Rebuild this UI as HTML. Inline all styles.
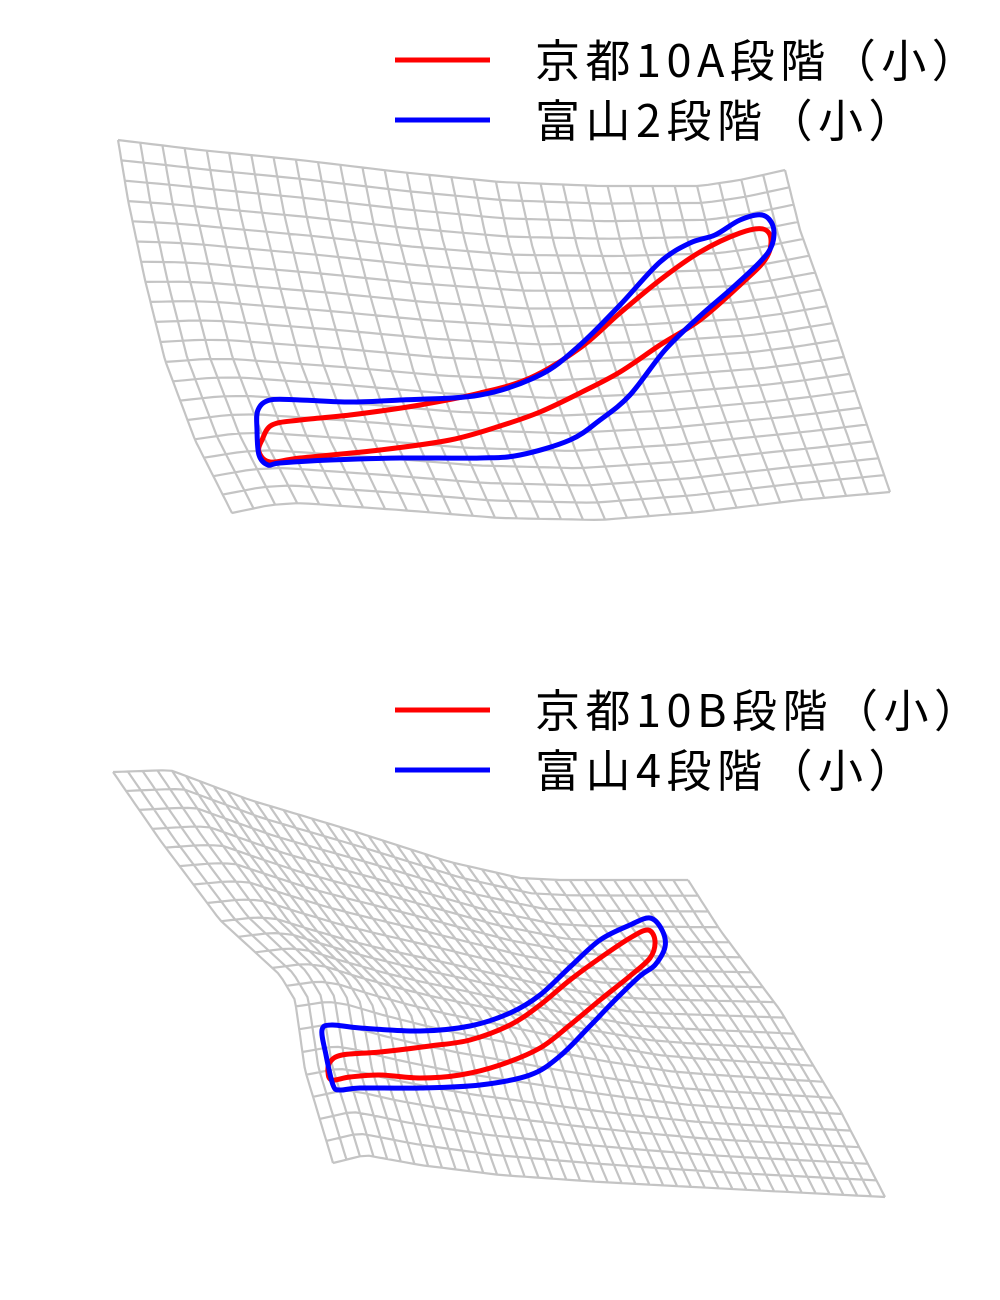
<!DOCTYPE html>
<html><head><meta charset="utf-8"><style>
body{margin:0;background:#fff}
svg{display:block}
text{font-family:"Noto Sans CJK JP","Liberation Sans",sans-serif;font-size:45px;fill:#000;letter-spacing:5.5px}
</style></head><body>
<svg id="chart" width="1000" height="1300" viewBox="0 0 1000 1300">
<g id="p1"></g>
<g id="p2"></g>
<g>
<line x1="395" y1="60" x2="490" y2="60" stroke="#ff0000" stroke-width="5"/>
<text x="535" y="77">京都10A段階（小）</text>
<line x1="395" y1="120" x2="490" y2="120" stroke="#0000ff" stroke-width="5"/>
<text x="535" y="137">富山2段階（小）</text>
</g>
<g>
<line x1="395" y1="710" x2="490" y2="710" stroke="#ff0000" stroke-width="5"/>
<text x="535" y="727">京都10B段階（小）</text>
<line x1="395" y1="770" x2="490" y2="770" stroke="#0000ff" stroke-width="5"/>
<text x="535" y="787">富山4段階（小）</text>
</g>
</svg>
<script>
// Grid 1 edges
const g1Top=[[118,140],[200,150],[300,160],[400,172],[500,182],[600,186],[700,186],[740,180],[785,170]];
const g1Bottom=[[232,513],[270,505],[300,503],[400,510],[500,518],[600,520],[700,512],[800,500],[890,492]];
const g1Left=[[118,140],[128,200],[145,280],[165,360],[195,440],[232,513]];
const g1Right=[[785,170],[800,230],[825,300],[855,390],[890,492]];
// Grid 2 edges
const g2Top=[[113,772],[170,770],[250,800],[350,830],[450,862],[520,878],[560,880],[688,880]];
const g2Bottom=[[333,1163],[365,1155],[420,1165],[500,1175],[600,1182],[750,1190],[885,1197]];
const g2Left=[[113,772],[160,840],[220,920],[280,975],[295,1000],[305,1070],[333,1163]];
const g2Right=[[688,880],[720,930],[780,1010],[840,1110],[885,1197]];
// Outlines
const red1=[[262,440],[272,425],[300,420],[350,415],[420,405],[480,393],[530,378],[580,348],[620,313],[660,280],[700,252],[740,233],[763,229],[771,240],[765,260],[740,285],[700,320],[660,345],[620,372],[580,393],[540,412],[500,426],[450,440],[380,450],[300,458],[270,462],[259,452]];
const blue1=[[258,410],[270,400],[300,400],[350,402],[400,400],[480,395],[540,375],[580,345],[620,305],[660,262],[690,243],[715,235],[740,220],[762,215],[773,226],[772,245],[760,262],[730,290],[700,316],[665,350],[630,395],[600,420],[570,440],[520,455],[480,458],[400,458],[330,460],[280,463],[268,465],[259,455],[257,430]];
const red2=[[330,1062],[342,1055],[380,1052],[430,1046],[470,1040],[510,1025],[540,1005],[570,980],[600,958],[630,938],[648,930],[655,941],[650,958],[630,976],[600,1000],[570,1025],[540,1048],[500,1065],[460,1075],[420,1078],[380,1075],[350,1077],[332,1080],[328,1072]];
const blue2=[[322,1030],[332,1025],[360,1028],[420,1031],[470,1026],[510,1013],[540,995],[570,967],[600,940],[630,925],[650,918],[662,930],[665,947],[655,965],[640,976],[615,1000],[590,1026],[560,1056],[530,1075],[480,1085],[420,1088],[360,1088],[340,1090],[333,1085],[326,1055]];

function interp(arr,t){
  const L=[0];
  for(let i=1;i<arr.length;i++)L.push(L[i-1]+Math.hypot(arr[i][0]-arr[i-1][0],arr[i][1]-arr[i-1][1]));
  const s=t*L[L.length-1];
  let i=0;while(i<arr.length-2&&L[i+1]<s)i++;
  const u=(s-L[i])/((L[i+1]-L[i])||1);
  return [arr[i][0]+(arr[i+1][0]-arr[i][0])*u, arr[i][1]+(arr[i+1][1]-arr[i][1])*u];
}
function coons(T,B,L,R,u,v){
  const t=interp(T,u),b=interp(B,u),l=interp(L,v),r=interp(R,v);
  const p00=T[0],p10=T[T.length-1],p01=B[0],p11=B[B.length-1];
  const out=[];
  for(let k=0;k<2;k++){
    out[k]=(1-v)*t[k]+v*b[k]+(1-u)*l[k]+u*r[k]
      -((1-u)*(1-v)*p00[k]+u*(1-v)*p10[k]+(1-u)*v*p01[k]+u*v*p11[k]);
  }
  return out;
}
const NS="http://www.w3.org/2000/svg";
function grid(g,T,B,L,R,nc,nr,name){
  const gg=document.createElementNS(NS,'g');
  
  
  let d='';
  const S=60;
  for(let i=0;i<=nc;i++){const u=i/nc;let s='';for(let j=0;j<=S;j++){const p=coons(T,B,L,R,u,j/S);s+=(j?'L':'M')+p[0].toFixed(1)+' '+p[1].toFixed(1);}d+=s;}
  for(let i=0;i<=nr;i++){const v=i/nr;let s='';for(let j=0;j<=S;j++){const p=coons(T,B,L,R,j/S,v);s+=(j?'L':'M')+p[0].toFixed(1)+' '+p[1].toFixed(1);}d+=s;}
  const p=document.createElementNS(NS,'path');
  
  
  p.setAttribute('d',d);p.setAttribute('fill','none');p.setAttribute('stroke','#c4c4c4');p.setAttribute('stroke-width','2.2');
  gg.appendChild(p);g.appendChild(gg);
}
function closedCurve(pts){
  const n=pts.length;let d='M'+pts[0][0]+' '+pts[0][1];
  for(let i=0;i<n;i++){
    const p0=pts[(i-1+n)%n],p1=pts[i],p2=pts[(i+1)%n],p3=pts[(i+2)%n];
    const c1=[p1[0]+(p2[0]-p0[0])/6,p1[1]+(p2[1]-p0[1])/6];
    const c2=[p2[0]-(p3[0]-p1[0])/6,p2[1]-(p3[1]-p1[1])/6];
    d+='C'+c1[0].toFixed(1)+' '+c1[1].toFixed(1)+' '+c2[0].toFixed(1)+' '+c2[1].toFixed(1)+' '+p2[0]+' '+p2[1];
  }
  return d+'Z';
}
function outline(g,pts,color,name){
  const p=document.createElementNS(NS,'path');
  
  
  p.setAttribute('d',closedCurve(pts));p.setAttribute('fill','none');p.setAttribute('stroke',color);p.setAttribute('stroke-width','5');p.setAttribute('stroke-linejoin','round');
  g.appendChild(p);
}
const p1=document.getElementById('p1'),p2=document.getElementById('p2');
grid(p1,g1Top,g1Bottom,g1Left,g1Right,30,19,'top-deformation-grid');
outline(p1,red1,'#ff0000','kyoto-10a-outline');
outline(p1,blue1,'#0000ff','toyama-2-outline');
grid(p2,g2Top,g2Bottom,g2Left,g2Right,40,20,'bottom-deformation-grid');
outline(p2,red2,'#ff0000','kyoto-10b-outline');
outline(p2,blue2,'#0000ff','toyama-4-outline');
</script>
</body></html>
